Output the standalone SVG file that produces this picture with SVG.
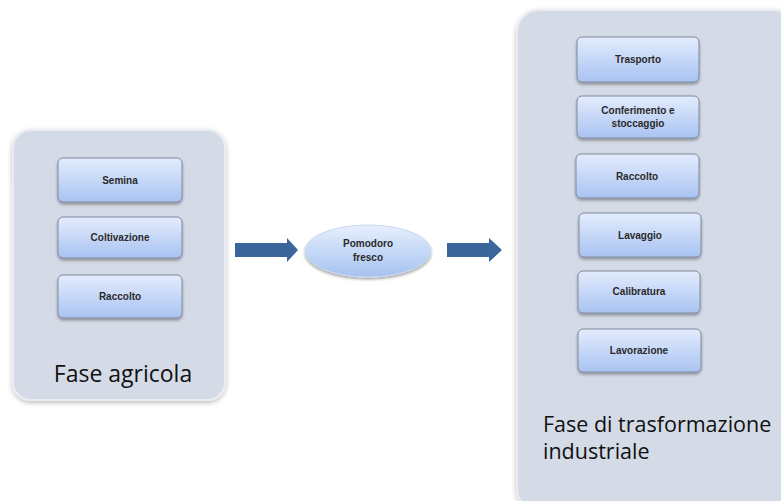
<svg xmlns="http://www.w3.org/2000/svg" width="781" height="501" viewBox="0 0 781 501">
<defs>
<linearGradient id="boxGrad" x1="0" y1="0" x2="0" y2="1">
<stop offset="0" stop-color="#e3ecfd"/>
<stop offset="1" stop-color="#a9c3f2"/>
</linearGradient>
<linearGradient id="ellGrad" x1="0" y1="0" x2="0" y2="1">
<stop offset="0" stop-color="#e6effd"/>
<stop offset="1" stop-color="#a6c2f0"/>
</linearGradient>
<filter id="shadow" x="-20%" y="-20%" width="140%" height="150%">
<feDropShadow dx="0" dy="2" stdDeviation="1.5" flood-color="#000" flood-opacity="0.35"/>
</filter>
<filter id="cshadow" x="-10%" y="-10%" width="120%" height="120%">
<feDropShadow dx="0" dy="2" stdDeviation="2.5" flood-color="#000" flood-opacity="0.25"/>
</filter>
</defs>
<style>
.container{fill:#d4dbe7;stroke:#e9edf3;stroke-width:2;filter:url(#cshadow)}
.box{fill:url(#boxGrad);stroke:#7f8a9c;stroke-width:1;filter:url(#shadow)}
.ell{fill:url(#ellGrad);stroke:#c9d8f0;stroke-width:1;filter:url(#shadow)}
.t{font-family:"Liberation Sans",Arial,sans-serif;font-size:10px;font-weight:bold;fill:#2a2a2a;text-anchor:middle}
.big{font-family:"Open Sans","Liberation Sans",sans-serif;font-size:21.5px;fill:#111}
.arrow{fill:#3b669c}
</style>
<rect width="781" height="501" fill="#ffffff"/>

<g id="fase-agricola">
<rect class="container" x="13" y="130" width="212" height="270" rx="18"/>
<text class="big" x="123" y="382" text-anchor="middle" style="font-size:23px">Fase agricola</text>
</g>
<g id="semina">
<rect class="box" x="58" y="158" width="124" height="44" rx="5"/>
<text class="t" x="120" y="184">Semina</text>
</g>
<g id="coltivazione">
<rect class="box" x="58" y="217" width="124" height="41" rx="5"/>
<text class="t" x="120" y="241">Coltivazione</text>
</g>
<g id="raccolto-agricolo">
<rect class="box" x="58" y="275" width="124" height="43" rx="5"/>
<text class="t" x="120" y="300">Raccolto</text>
</g>

<g id="pomodoro-fresco">
<ellipse class="ell" cx="368" cy="251" rx="63" ry="26"/>
<text class="t" x="368" y="247">Pomodoro</text>
<text class="t" x="368" y="261">fresco</text>
</g>

<g id="fase-industriale">
<rect class="container" x="517" y="10" width="280" height="500" rx="22"/>
<text class="big" x="543" y="432">Fase di trasformazione</text>
<text class="big" x="543" y="459">industriale</text>
</g>
<g id="trasporto">
<rect class="box" x="577" y="37" width="122" height="45" rx="5"/>
<text class="t" x="638" y="63">Trasporto</text>
</g>
<g id="conferimento">
<rect class="box" x="577" y="96" width="122" height="42" rx="5"/>
<text class="t" x="638" y="114">Conferimento e</text>
<text class="t" x="638" y="127">stoccaggio</text>
</g>
<g id="raccolto-industriale">
<rect class="box" x="576" y="154" width="123" height="44" rx="5"/>
<text class="t" x="637" y="180">Raccolto</text>
</g>
<g id="lavaggio">
<rect class="box" x="579" y="213" width="122" height="44" rx="5"/>
<text class="t" x="640" y="239">Lavaggio</text>
</g>
<g id="calibratura">
<rect class="box" x="578" y="271" width="122" height="42" rx="5"/>
<text class="t" x="639" y="295">Calibratura</text>
</g>
<g id="lavorazione">
<rect class="box" x="578" y="329" width="123" height="43" rx="5"/>
<text class="t" x="639" y="354">Lavorazione</text>
</g>

<g id="connectors">
<path class="arrow" d="M235,243 H287 V238 L298,250 L287,262 V257 H235 Z"/>
<path class="arrow" d="M447,243 H489 V238 L502,250 L489,262 V257 H447 Z"/>
</g>
</svg>
